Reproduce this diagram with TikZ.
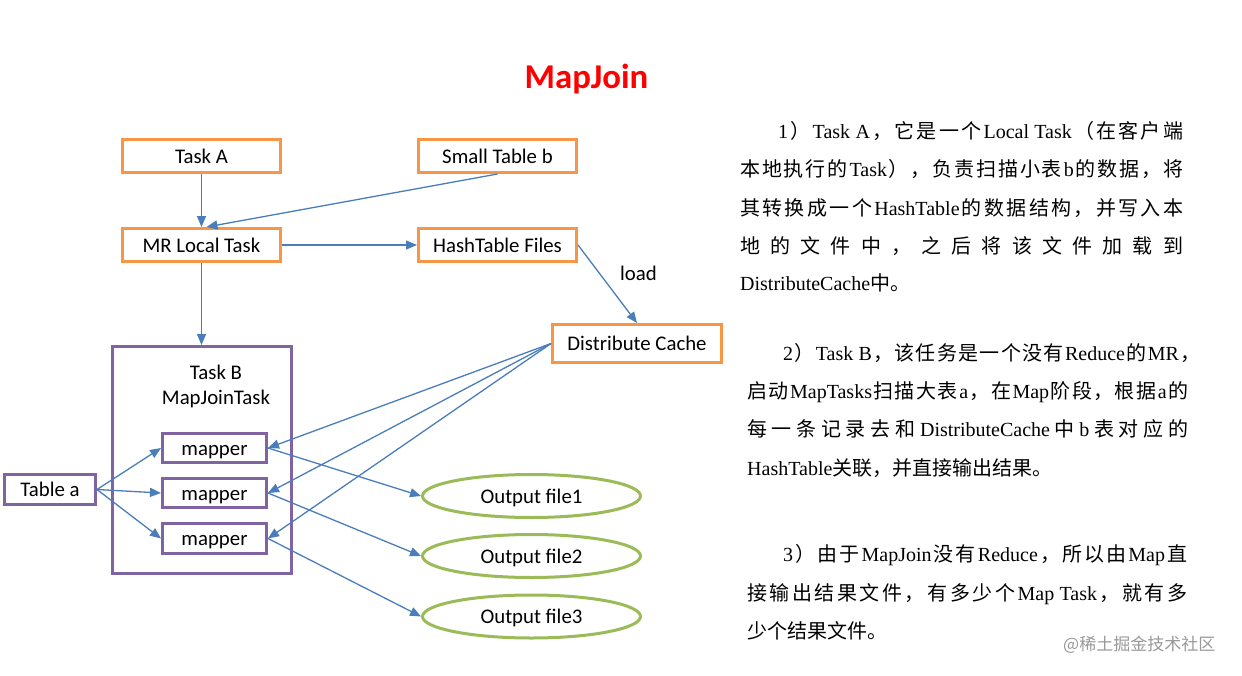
\documentclass[tikz,border=0pt]{standalone}
\usepackage{fontspec}
\setmainfont{Carlito}
\newfontfamily\enf{Liberation Serif}
\newfontfamily\cjkf{Noto Sans CJK SC}
\usetikzlibrary{arrows.meta,shapes.geometric}
\definecolor{orgc}{HTML}{F79646}
\definecolor{purc}{HTML}{8064A2}
\definecolor{grnc}{HTML}{9BBB59}
\definecolor{arrc}{HTML}{4A7EBB}
\definecolor{ttlc}{HTML}{FF0000}
\newcommand\diag{\fontsize{20.8}{25}\selectfont}
\newcommand\txtf{\fontsize{20}{24}\selectfont}
\newcount\mycc
\mycc="4E00
\loop
  \XeTeXcharclass\mycc=1
  \advance\mycc by 1
\ifnum\mycc<"A000 \repeat
\XeTeXcharclass"FF08=1
\XeTeXcharclass"FF09=1
\XeTeXcharclass"FF0C=1
\XeTeXcharclass"3002=1
\XeTeXinterchartokenstate=1
\XeTeXinterchartoks 1 1 = {\hskip 0pt plus 1em\relax}
\XeTeXinterchartoks 0 1 = {\hskip 0pt plus 1em\relax\cjkf}
\XeTeXinterchartoks 4095 1 = {\cjkf}
\XeTeXinterchartoks 1 0 = {\enf\hskip 0pt plus 1em\relax}
\XeTeXinterchartoks 1 4095 = {\enf}
\newcommand\jline[4]{\node[anchor=base west, inner sep=0pt, font=\txtf] (#1) at (#2) {\hbox to #3pt{\enf #4}};}
\newcommand\nline[3]{\node[anchor=base west, inner sep=0pt, font=\txtf] (#1) at (#2) {\enf #3};}
\begin{document}
\begin{tikzpicture}[x=1pt,y=-1pt,
  obox/.style={draw=orgc, line width=3pt, minimum width=158pt, minimum height=33pt, inner sep=0pt, font=\diag, text height=18pt, text depth=4pt},
  pbox/.style={draw=purc, line width=3pt, inner sep=0pt, font=\diag, text height=18pt, text depth=4pt},
  oell/.style={ellipse, draw=grnc, line width=3pt, minimum width=218pt, minimum height=43pt, inner sep=0pt, font=\diag, text height=18pt, text depth=4pt},
  arr/.style={draw=arrc, line width=1.3pt, -{Triangle[length=11pt,width=9pt]}}]
\useasboundingbox (0,0) rectangle (1242,675);
\fill[white] (0,0) rectangle (1242,675);
% title
\node[anchor=base, font=\fontsize{34.8}{40}\selectfont\bfseries, text=ttlc, inner sep=0pt] (title) at (586.5,88) {MapJoin};
% boxes
\node[obox] (ta) at (201.5,156) {Task A};
\node[obox] (stb) at (497.5,156) {Small Table b};
\node[obox] (mr) at (201.5,245) {MR Local Task};
\node[obox] (ht) at (497.5,245) {HashTable Files};
\node[obox, minimum width=169pt, minimum height=38pt] (dc) at (637,343.5) {Distribute Cache};
\node[anchor=base, font=\diag, inner sep=0pt] (ld) at (638.5,280) {load};
\node[pbox, minimum width=179pt, minimum height=227pt] (tb) at (202,460) {};
\node[font=\diag, align=center, inner sep=0pt] (tbl) at (216,386) {Task B\\MapJoinTask};
\node[pbox, minimum width=104pt, minimum height=29pt] (m1) at (214.5,448) {mapper};
\node[pbox, minimum width=104pt, minimum height=29pt] (m2) at (214.5,493) {mapper};
\node[pbox, minimum width=104pt, minimum height=30pt] (m3) at (214.5,538.5) {mapper};
\node[pbox, minimum width=91pt, minimum height=30pt] (tabla) at (50,489.5) {Table a};
\node[oell] (o1) at (531.5,496) {Output file1};
\node[oell] (o2) at (531.5,556) {Output file2};
\node[oell] (o3) at (531.5,616.5) {Output file3};
% connectors
\draw[arr] (ta) -- (mr);
\draw[arr] (stb.south) -- ([xshift=5pt]mr.north);
\draw[arr] (mr) -- (ht);
\draw[arr] (ht.east) -- (dc.north);
\draw[arr] (mr.south) -- (mr.south |- tb.north);
\foreach \i in {1,2,3}{
  \draw[arr] (dc.west) -- (m\i.east);
  \draw[arr] (m\i.east) -- (o\i.west);
  \draw[arr] (tabla.east) -- (m\i.west);
}
% right text
\jline{a1}{778,138}{405}{1）Task A，它是一个Local Task（在客户端}
\jline{a2}{740,176}{443}{本地执行的Task），负责扫描小表b的数据，将}
\jline{a3}{740,215}{443}{其转换成一个HashTable的数据结构，并写入本}
\jline{a4}{740,253}{443}{地的文件中，之后将该文件加载到}
\nline{a5}{740,290}{DistributeCache中。}
\jline{b1}{783,360}{417}{2）Task B，该任务是一个没有Reduce的MR，}
\jline{b2}{747,398}{441}{启动MapTasks扫描大表a，在Map阶段，根据a的}
\jline{b3}{747,436}{441}{每一条记录去和DistributeCache中b表对应的}
\nline{b4}{747,475}{HashTable关联，并直接输出结果。}
\jline{c1}{783,561}{404}{3）由于MapJoin没有Reduce，所以由Map直}
\jline{c2}{747,600}{440}{接输出结果文件，有多少个Map Task，就有多}
\nline{c3}{747,638}{少个结果文件。}
\node[anchor=base west, inner sep=0pt, font=\fontsize{17}{20}\selectfont\cjkf, text=black!40] (wm) at (1063,650) {@稀土掘金技术社区};
\end{tikzpicture}
\end{document}
